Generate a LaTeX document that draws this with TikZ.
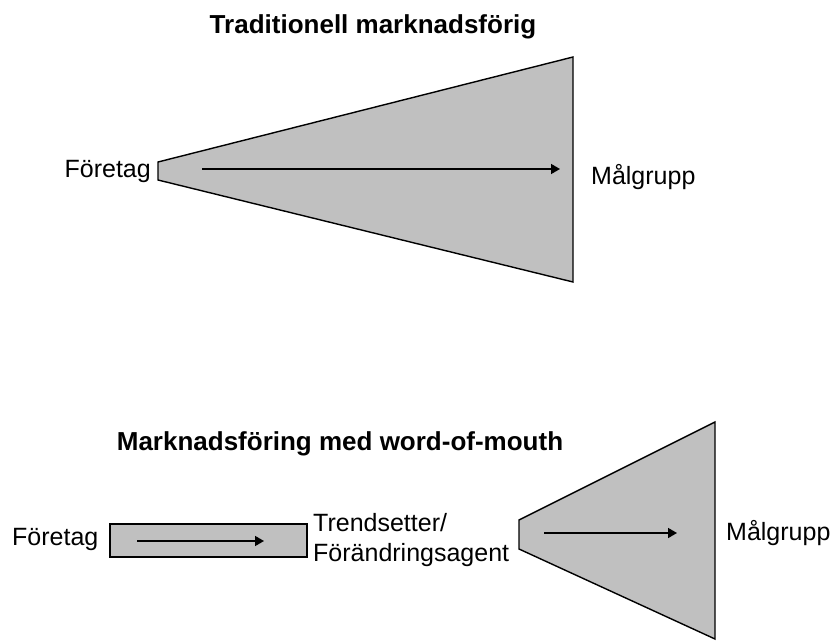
\documentclass[tikz,border=0pt]{standalone}
\usepackage{fontspec}
\setmainfont{Liberation Sans}
\usetikzlibrary{arrows.meta,positioning}
\definecolor{funnelgray}{HTML}{C0C0C0}

\begin{document}
\begin{tikzpicture}[
  x=1pt, y=-1pt,
  lbl/.style={font=\fontsize{25}{30}\selectfont, inner sep=0pt, align=left},
  ttl/.style={font=\fontsize{26}{31}\selectfont\bfseries, inner sep=0pt},
  funnel/.style={draw=black, fill=funnelgray, line width=1.4pt, line join=miter},
  arr/.style={-{Triangle[length=9pt, width=10pt]}, line width=1.6pt, draw=black}
]
\useasboundingbox (0,0) rectangle (833,642);
% ---------- traditional (top) ----------
\node[ttl] (tradtitle) at (373,27) {Traditionell marknadsförig};
\draw[funnel] (158,162) -- (573,57) -- (573,282) -- (158,180) -- cycle;
\node[lbl, anchor=base east] (tradsrc) at (151,177) {Företag};
\node[lbl, anchor=base west] (tradtgt) at (591,184) {Målgrupp};
\coordinate (tradfrom) at (202,169);
\coordinate (tradto) at (560,169);
\draw[arr] (tradfrom) -- (tradto);

% ---------- word-of-mouth (bottom) ----------
\node[ttl] (womtitle) at (340,444) {Marknadsföring med word-of-mouth};
\node[lbl, anchor=base west] (womsrc) at (12,545) {Företag};
\node[funnel, minimum width=197pt, minimum height=33pt, inner sep=0pt] (channel) at (208.5,540.5) {};
\node[lbl, anchor=north west] (agent) at (313,513) {Trendsetter/\\Förändringsagent};
\draw[funnel] (519,520) -- (715,422) -- (715,639) -- (519,549) -- cycle;
\node[lbl, anchor=base west] (womtgt) at (726,540) {Målgrupp};
\coordinate (chanfrom) at (137,541);
\coordinate (chanto) at (264,541);
\coordinate (spreadfrom) at (544,533);
\coordinate (spreadto) at (677,533);
\draw[arr] (chanfrom) -- (chanto);
\draw[arr] (spreadfrom) -- (spreadto);
\end{tikzpicture}
\end{document}
